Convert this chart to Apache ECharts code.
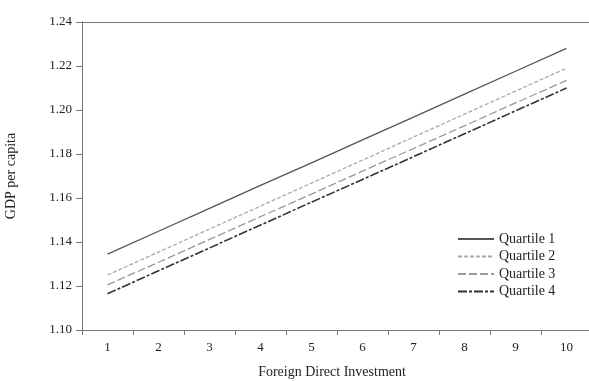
<!DOCTYPE html>
<html><head><meta charset="utf-8">
<script src="https://cdn.jsdelivr.net/npm/echarts@6/dist/echarts.min.js"></script>
<style>html,body{margin:0;padding:0;background:#fff}#c{width:589px;height:381px}</style>
</head><body><div id="c"></div>
<script>
var categories = ['1','2','3','4','5','6','7','8','9','10'];
var quartile1 = [1.1345, 1.1449, 1.1553, 1.1657, 1.1760, 1.1864, 1.1968, 1.2072, 1.2176, 1.2280];
var quartile2 = [1.1250, 1.1354, 1.1459, 1.1563, 1.1668, 1.1772, 1.1877, 1.1981, 1.2086, 1.2190];
var quartile3 = [1.1205, 1.1308, 1.1412, 1.1515, 1.1618, 1.1722, 1.1825, 1.1928, 1.2032, 1.2135];
var quartile4 = [1.1165, 1.1269, 1.1373, 1.1477, 1.1581, 1.1684, 1.1788, 1.1892, 1.1996, 1.2100];
var seriesNames = ['Quartile 1','Quartile 2','Quartile 3','Quartile 4'];

var font = 'Liberation Serif';
var axisColor = '#777';
var chart = echarts.init(document.getElementById('c'), null, {renderer:'canvas'});
function mk(name, data, color, type, width){
  return {name:name, type:'line', data:data, showSymbol:false, symbol:'none', silent:true,
    xAxisIndex:0, yAxisIndex:0,
    lineStyle:{color:color, type:type, width:width}, itemStyle:{color:color}, animation:false};
}
chart.setOption({
  animation:false,
  grid:{left:82, top:22, width:510, height:308, show:false, containLabel:false, outerBoundsMode:'none'},
  legend:{orient:'vertical', left:452, top:227, icon:'inherit', itemWidth:36, itemHeight:10, itemGap:3.5,
    itemStyle:{opacity:0},
    textStyle:{fontFamily:font, fontSize:14, color:'#222'},
    data:seriesNames},
  xAxis:[{type:'category', data:categories, boundaryGap:true,
    name:'Foreign Direct Investment', nameLocation:'middle', nameGap:35,
    nameTextStyle:{fontFamily:font, fontSize:14, color:'#222', padding:[0,10,0,0]},
    axisLine:{lineStyle:{color:axisColor, width:1}},
    axisTick:{show:true, length:5, alignWithLabel:false, lineStyle:{color:axisColor}},
    axisLabel:{fontFamily:font, fontSize:13, color:'#222', margin:11},
    splitLine:{show:false}},
    {type:'category', data:categories, position:'top', boundaryGap:true,
    axisLine:{show:true, lineStyle:{color:axisColor, width:1}},
    axisTick:{show:false}, axisLabel:{show:false}, splitLine:{show:false}}],
  yAxis:{type:'value', min:1.10, max:1.24, interval:0.02,
    name:'GDP per capita', nameLocation:'middle', nameGap:64, nameRotate:90,
    nameTextStyle:{fontFamily:font, fontSize:14, color:'#222'},
    axisLine:{show:true, lineStyle:{color:axisColor, width:1}},
    axisTick:{show:true, length:6, lineStyle:{color:axisColor}},
    axisLabel:{fontFamily:font, fontSize:13, color:'#222', margin:10, formatter:function(v){return v.toFixed(2);}},
    splitLine:{show:false}},
  series:[
    mk(seriesNames[0], quartile1, '#555', 'solid', 1.3),
    mk(seriesNames[1], quartile2, '#aaa', [4,2], 1.3),
    mk(seriesNames[2], quartile3, '#999', [8,3], 1.3),
    mk(seriesNames[3], quartile4, '#333', [9,2,3,2], 1.6)
  ]
});
</script></body></html>
